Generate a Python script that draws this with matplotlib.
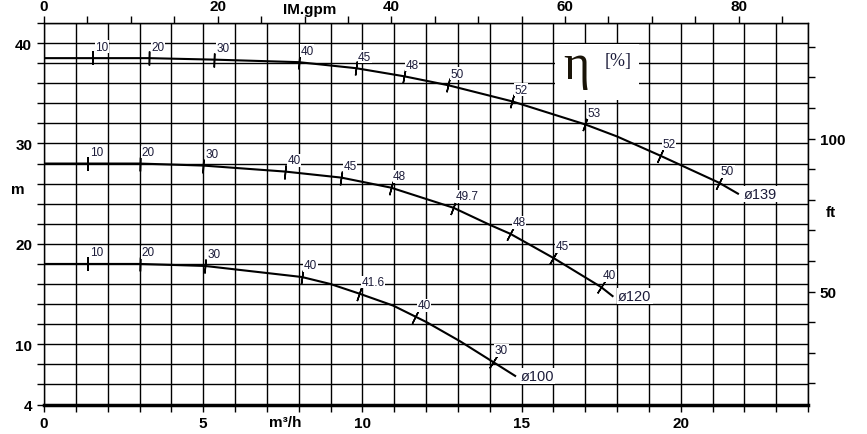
import numpy as np
import matplotlib
matplotlib.use("Agg")
import matplotlib.pyplot as plt
from matplotlib.ticker import MultipleLocator
from matplotlib.patches import Rectangle

plt.rcParams['font.family'] = ['Liberation Sans', 'DejaVu Sans']

# pump curves: flow (m3/h) vs head (m)
q139 = [0, 1.54, 3.3, 5.35, 8.0, 9.8, 11.3, 12.7, 14.7, 16.0, 17.0, 18.0, 19.35, 21.2, 21.8]
h139 = [38.5, 38.5, 38.5, 38.35, 38.1, 37.5, 36.7, 35.8, 34.2, 32.9, 31.9, 30.7, 28.8, 26.1, 25.0]
q120 = [0, 1.38, 3.0, 5.0, 7.58, 9.34, 10.9, 12.86, 14.0, 14.65, 16.0, 17.5, 17.86]
h120 = [28.0, 28.0, 28.0, 27.8, 27.2, 26.6, 25.6, 23.6, 21.9, 21.0, 18.6, 15.7, 14.8]
q100 = [0, 1.38, 3.0, 5.06, 8.1, 9.0, 9.9, 10.97, 11.67, 12.02, 13.07, 14.1, 14.8]
h100 = [18.0, 18.0, 18.0, 17.8, 16.7, 16.0, 15.05, 13.85, 12.75, 12.2, 10.3, 8.25, 6.85]

# efficiency marks on each curve
e139_q = [1.54, 3.3, 5.35, 8.0, 9.8, 11.3, 12.7, 14.7, 17.0, 19.35, 21.2]
e139_h = [38.5, 38.5, 38.35, 38.1, 37.5, 36.7, 35.8, 34.2, 31.9, 28.8, 26.1]
e139_t = ['10', '20', '30', '40', '45', '48', '50', '52', '53', '52', '50']
e120_q = [1.38, 3.0, 5.0, 7.58, 9.34, 10.9, 12.86, 14.65, 16.0, 17.5]
e120_h = [28.0, 28.0, 27.8, 27.2, 26.6, 25.6, 23.6, 21.0, 18.6, 15.7]
e120_t = ['10', '20', '30', '40', '45', '48', '49.7', '48', '45', '40']
e100_q = [1.38, 3.0, 5.06, 8.1, 9.9, 11.67, 14.1]
e100_h = [18.0, 18.0, 17.8, 16.7, 15.05, 12.75, 8.25]
e100_t = ['10', '20', '30', '40', '41.6', '40', '30']

names = ['ø139', 'ø120', 'ø100']

GPM = 3.666   # imperial gpm per m3/h
FT = 0.3048

fig = plt.figure(figsize=(8.67, 4.35), dpi=100)
ax = fig.add_axes([44/867, 1-405.5/435, (808-44)/867, (405.5-24)/435])
ax.set_xlim(0, 24)
ax.set_ylim(4, 42)

ax.set_xticks([0, 5, 10, 15, 20])
ax.xaxis.set_minor_locator(MultipleLocator(1))
ax.set_yticks([4, 10, 20, 30, 40])
ax.yaxis.set_minor_locator(MultipleLocator(2))
ax.set_axisbelow(True)
ax.grid(which='both', color='black', lw=1.0)
ax.tick_params(which='both', direction='out', length=5, width=1, labelsize=11)
for lab in ax.get_xticklabels() + ax.get_yticklabels():
    lab.set_fontweight('bold')
for s in ['left', 'right', 'top']:
    ax.spines[s].set_linewidth(1.0)
ax.spines['bottom'].set_linewidth(2.5)

# top axis in IM gpm
top = ax.secondary_xaxis('top', functions=(lambda q: q*GPM, lambda g: g/GPM))
top.set_xticks([0, 20, 40, 60, 80])
top.xaxis.set_minor_locator(MultipleLocator(5))
top.tick_params(which='both', direction='out', length=5, width=1, labelsize=11, pad=2)
for lab in top.get_xticklabels():
    lab.set_fontweight('bold')

# right axis in ft
right = ax.secondary_yaxis('right', functions=(lambda m: m/FT, lambda f: f*FT))
right.set_yticks([50, 100])
right.yaxis.set_minor_locator(MultipleLocator(10))
right.tick_params(which='both', direction='out', length=5, width=1, labelsize=11)
for lab in right.get_yticklabels():
    lab.set_fontweight('bold')

fig.text(18/867, 1-190/435, 'm', fontsize=11, fontweight='bold', ha='center', va='center')
fig.text(831/867, 1-213/435, 'ft', fontsize=11, fontweight='bold', ha='center', va='center')
fig.text(285/867, 1-423/435, 'm³/h', fontsize=11, fontweight='bold', ha='center', va='center')
fig.text(310/867, 1-10/435, 'IM.gpm', fontsize=11, fontweight='bold', ha='center', va='center')

# eta box
ax.add_patch(Rectangle((16.05, 34.3), 2.65, 5.6, fc='white', ec='none', zorder=1))
ax.text(16.72, 37.7, 'η', family='Liberation Serif', fontsize=36, color='#1a1408',
        ha='center', va='center', zorder=3)
ax.text(18.03, 38.3, '[%]', family='Liberation Serif', fontsize=13, color='#1c1c3a',
        ha='center', va='center', zorder=3)

fig.canvas.draw()
curves = [(q139, h139, e139_q, e139_h, e139_t),
          (q120, h120, e120_q, e120_h, e120_t),
          (q100, h100, e100_q, e100_h, e100_t)]
lbl_col = '#1c1c3a'
for (qs, hs, eq, eh, et), nm in zip(curves, names):
    ax.plot(qs, hs, color='black', lw=1.5, zorder=2, solid_joinstyle='round')
    pts = ax.transData.transform(np.column_stack([qs, hs]))
    for q, h, t in zip(eq, eh, et):
        i = qs.index(q)
        a = pts[max(i-1, 0)]
        b = pts[min(i+1, len(qs)-1)]
        ang = np.degrees(np.arctan2(b[1]-a[1], b[0]-a[0]))
        ax.plot([q], [h], marker=(2, 2, ang), ms=10, mew=1.1, color='black', zorder=3)
        ax.annotate(t, (q, h), xytext=(1.5, 4), textcoords='offset points',
                    fontsize=8.5, color=lbl_col, ha='left', va='bottom', zorder=4,
                    bbox=dict(fc='white', ec='none', pad=0.3))
    ax.annotate(nm, (qs[-1], hs[-1]), xytext=(4, 0), textcoords='offset points',
                fontsize=10.5, color=lbl_col, ha='left', va='center', zorder=4,
                bbox=dict(fc='white', ec='none', pad=0.8))

fig.savefig('out.png', dpi=100)
